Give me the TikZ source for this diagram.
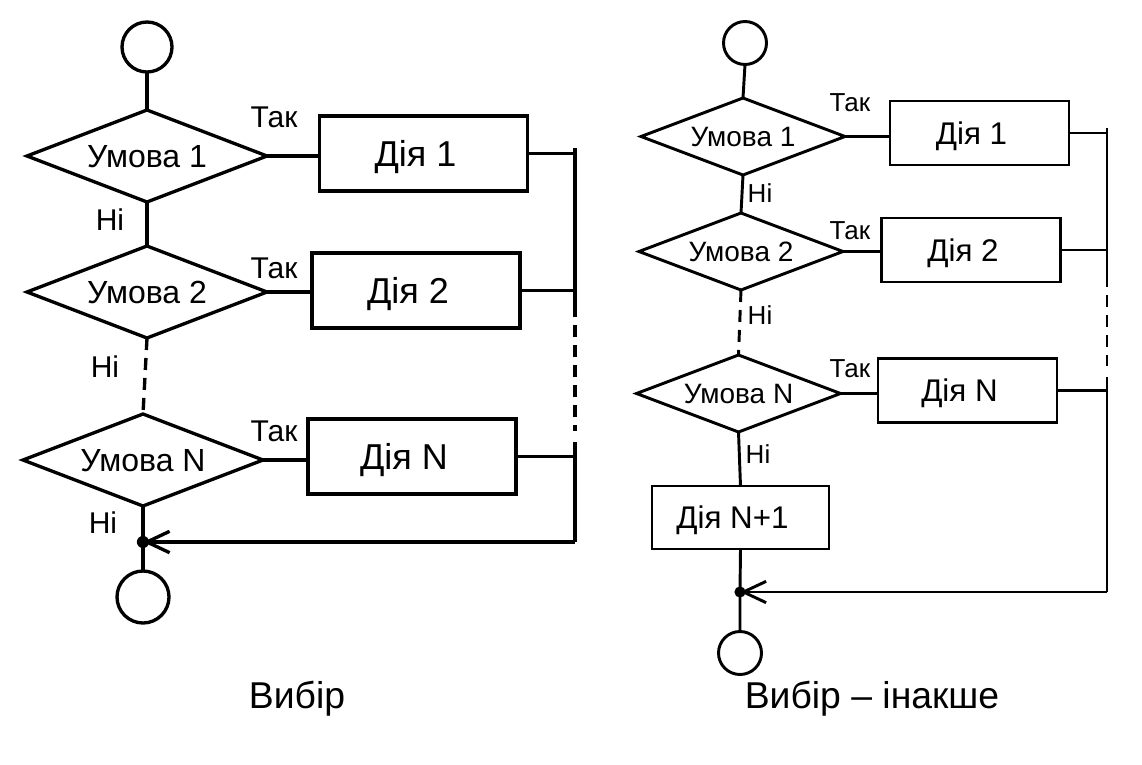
\documentclass[tikz,border=0pt]{standalone}
\usepackage{fontspec}
\setmainfont{Liberation Sans}
\usetikzlibrary{shapes.geometric,arrows.meta}
\newdimen\px \px=0.75pt
\newcommand\padtxt[1]{#1\kern16\px}
\begin{document}
\begin{tikzpicture}[x=0.75pt,y=-0.75pt,line join=miter,
  dia/.style={draw,shape=diamond,inner sep=0pt,outer sep=0pt,text depth=0pt},
  box/.style={draw,rectangle,inner sep=0pt,outer sep=0pt,text depth=0pt},
  term/.style={draw,circle,inner sep=0pt,outer sep=0pt},
  lbl/.style={inner sep=0pt,text depth=0pt},
  ldia/.style={dia,shape aspect=2.6,minimum width=240\px,minimum height=92\px,font=\fontsize{24pt}{24pt}\selectfont},
  lbox/.style={box,minimum width=208\px,minimum height=75\px,font=\fontsize{27pt}{27pt}\selectfont},
  llbl/.style={lbl,font=\fontsize{22.5pt}{22.5pt}\selectfont},
  rdia/.style={dia,shape aspect=2.65,minimum width=204\px,minimum height=77\px,font=\fontsize{21pt}{21pt}\selectfont},
  rbox/.style={box,minimum width=179\px,minimum height=64\px,font=\fontsize{23.5pt}{23.5pt}\selectfont},
  rlbl/.style={lbl,font=\fontsize{19.5pt}{19.5pt}\selectfont},
  caption/.style={lbl,font=\fontsize{28pt}{28pt}\selectfont},
  dsh/.style={dash pattern=on 9pt off 6pt},
  arr/.style={-{Straight Barb[length=17pt,width=16pt]}},
  leftpart/.style={line width=2.5pt},
  rightpart/.style={line width=2.2pt}]
\useasboundingbox (0,0) rectangle (1142,764);

% ---------------- left: Вибір ----------------
\begin{scope}[leftpart]
\node[term,minimum size=50\px] (Ls) at (147,47) {};
\node[ldia] (L1) at (147,156) {Умова 1};
\node[lbox] (LR1) at (423.5,153.5) {\padtxt{Дія 1}};
\node[ldia] (L2) at (147,292) {Умова 2};
\node[lbox] (LR2) at (416,290.5) {\padtxt{Дія 2}};
\node[ldia] (LN) at (143,460) {Умова N};
\node[lbox] (LRN) at (412,456.5) {\padtxt{Дія N}};
\coordinate (LJ) at (143,542);
\node[term,minimum size=52\px] (Le) at (143,597) {};
\coordinate (LBt) at (575,148);
\coordinate (LBa) at (575,305);
\coordinate (LBb) at (575,431);
\coordinate (LBc) at (575,442);
\coordinate (LBe) at (575,542);

\draw (Ls.south) -- (L1.north);
\draw (L1.south) -- (L2.north);
\draw[dsh] (L2.south) -- (LN.north);
\draw (LN.south) -- (LJ) -- (Le.north);
\draw (L1.east) -- (L1.east -| LR1.west);
\draw (L2.east) -- (L2.east -| LR2.west);
\draw (LN.east) -- (LN.east -| LRN.west);
\draw (LR1.east) -- (LR1.east -| LBt);
\draw (LR2.east) -- (LR2.east -| LBt);
\draw (LRN.east) -- (LRN.east -| LBt);
\draw (LBt) -- (LBa);
\draw[dsh] (LBa) -- (LBb);
\draw (LBc) -- (LBe);
\draw[arr] (LBe) -- (LJ);
\fill (LJ) circle[radius=4.6pt];

\node[llbl] (lt1) at (274,117) {Так};
\node[llbl] (lt2) at (274,268) {Так};
\node[llbl] (lt3) at (274,431) {Так};
\node[llbl] (ln1) at (110,220) {Ні};
\node[llbl] (ln2) at (105,367) {Ні};
\node[llbl] (ln3) at (103,523) {Ні};
\end{scope}
\node[caption] (cap1) at (297,695) {Вибір};

% ---------------- right: Вибір – інакше ----------------
\begin{scope}[rightpart]
\node[term,minimum size=43\px] (Rs) at (745,43) {};
\node[rdia] (R1) at (743,136.5) {Умова 1};
\node[rbox] (RR1) at (979.5,133) {\padtxt{Дія 1}};
\node[rdia] (R2) at (741,251.5) {Умова 2};
\node[rbox] (RR2) at (971,250) {\padtxt{Дія 2}};
\node[rdia] (RN) at (738.5,393.5) {Умова N};
\node[rbox] (RRN) at (967.5,390.5) {\padtxt{Дія N}};
\node[rbox,minimum width=177\px,minimum height=63\px] (RRN1) at (740.5,517.5) {\padtxt{Дія N+1}};
\coordinate (RJ) at (740,592);
\node[term,minimum size=43\px] (Re) at (740,653) {};
\coordinate (RBt) at (1107,128);
\coordinate (RBa) at (1107,275);
\coordinate (RBb) at (1107,366);
\coordinate (RBc) at (1107,377);
\coordinate (RBe) at (1107,592);

\draw (Rs.south) -- (R1.north);
\draw (R1.south) -- (R2.north);
\draw[dsh] (R2.south) -- (RN.north);
\draw (RN.south) -- (RRN1.north);
\draw (RRN1.south) -- (RJ) -- (Re.north);
\draw (R1.east) -- (R1.east -| RR1.west);
\draw (R2.east) -- (R2.east -| RR2.west);
\draw (RN.east) -- (RN.east -| RRN.west);
\draw (RR1.east) -- (RR1.east -| RBt);
\draw (RR2.east) -- (RR2.east -| RBt);
\draw (RRN.east) -- (RRN.east -| RBt);
\draw (RBt) -- (RBa);
\draw[dsh] (RBa) -- (RBb);
\draw (RBc) -- (RBe);
\draw[arr] (RBe) -- (RJ);
\fill (RJ) circle[radius=4.2pt];

\node[rlbl] (rt1) at (850,103) {Так};
\node[rlbl] (rt2) at (850,231) {Так};
\node[rlbl] (rt3) at (850,369) {Так};
\node[rlbl] (rn1) at (760,193) {Ні};
\node[rlbl] (rn2) at (760,315) {Ні};
\node[rlbl] (rn3) at (758,454) {Ні};
\end{scope}
\node[caption] (cap2) at (872,695) {Вибір – інакше};
\end{tikzpicture}
\end{document}
